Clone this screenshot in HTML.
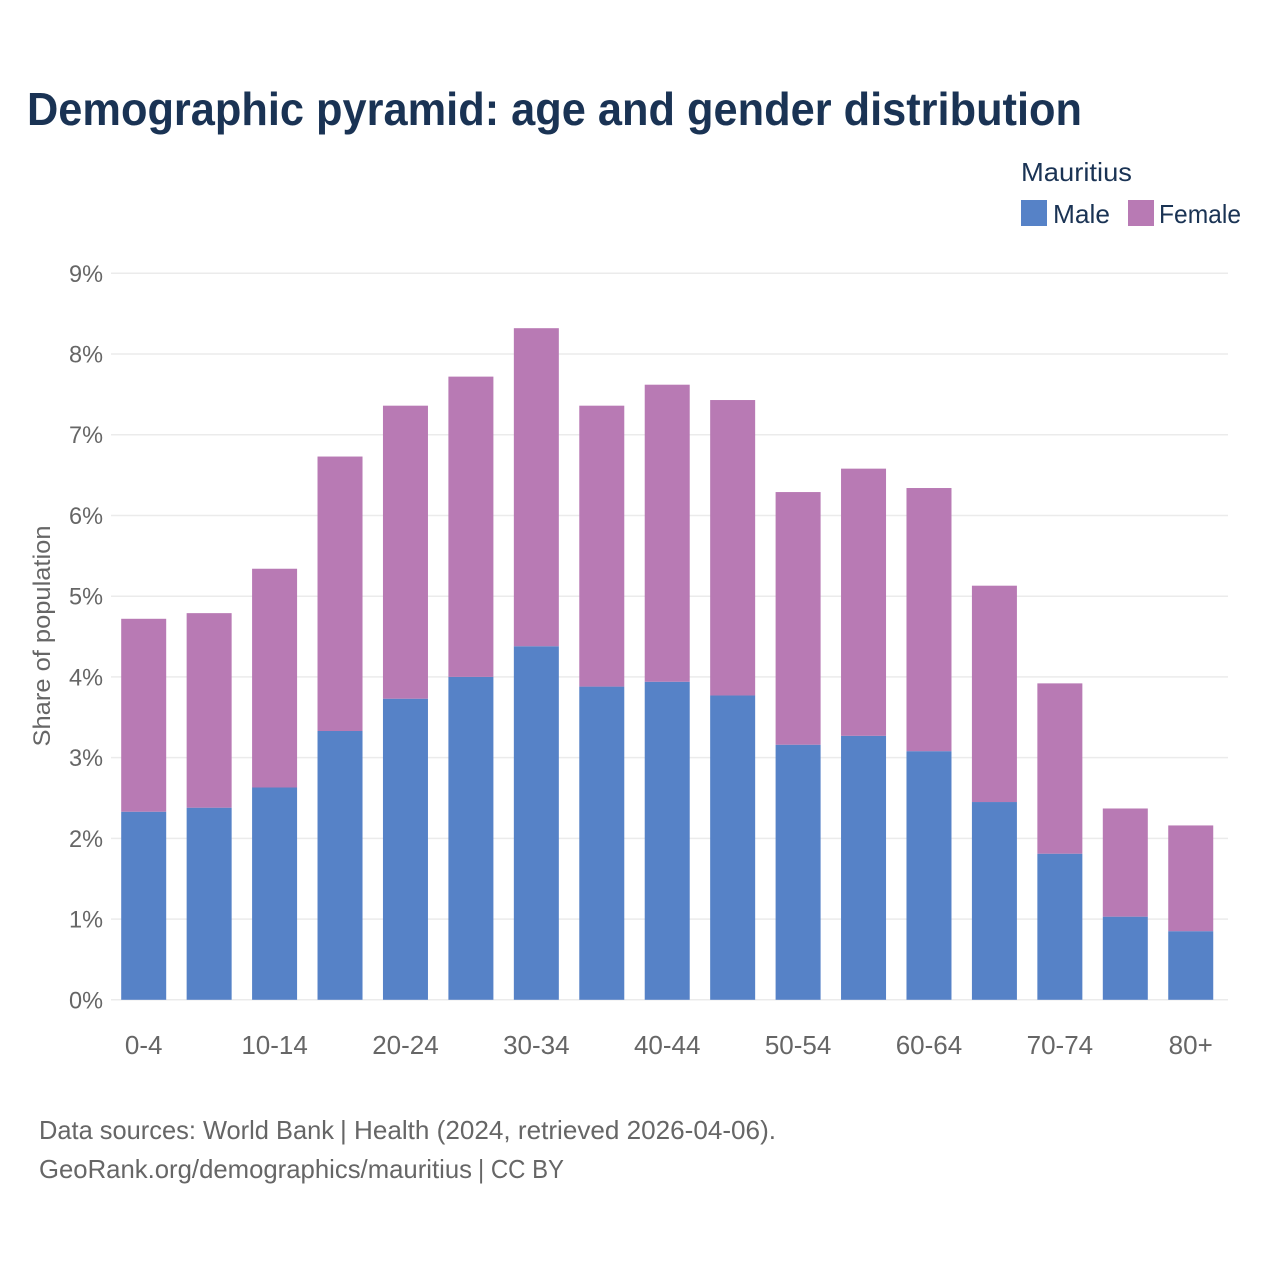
<!DOCTYPE html>
<html lang="en">
<head>
<meta charset="utf-8">
<title>Demographic pyramid: Mauritius</title>
<style>
html,body{margin:0;padding:0;background:#fff;}
svg{display:block;font-family:"Liberation Sans",sans-serif;}
</style>
</head>
<body>
<svg id="chart" width="1280" height="1280" viewBox="0 0 1280 1280" xmlns="http://www.w3.org/2000/svg">
  <rect x="0" y="0" width="1280" height="1280" fill="#ffffff"/>
  <text x="27" y="125" font-size="46" font-weight="700" fill="#1a3354" textLength="1055" lengthAdjust="spacingAndGlyphs">Demographic pyramid: age and gender distribution</text>
  <text x="1021" y="181" font-size="26" fill="#1a3354" textLength="111" lengthAdjust="spacingAndGlyphs">Mauritius</text>
  <rect x="1021" y="200" width="26" height="26" fill="#5682c7"/>
  <text x="1053" y="223" font-size="26" fill="#1a3354" textLength="57" lengthAdjust="spacingAndGlyphs">Male</text>
  <rect x="1128" y="200" width="26" height="26" fill="#b87ab4"/>
  <text x="1159" y="223" font-size="26" fill="#1a3354" textLength="82" lengthAdjust="spacingAndGlyphs">Female</text>
  <g id="grid"></g>
  <g id="y-ticks"></g>
  <text transform="translate(50,636) rotate(-90)" text-anchor="middle" font-size="24" fill="#666666" textLength="221" lengthAdjust="spacingAndGlyphs">Share of population</text>
  <g id="bars"></g>
  <g id="x-ticks"></g>
  <text x="39" y="1139" font-size="26" fill="#666666" textLength="295" lengthAdjust="spacingAndGlyphs">Data sources: World Bank</text>
  <text x="340" y="1139" font-size="26" fill="#666666" textLength="436" lengthAdjust="spacingAndGlyphs">| Health (2024, retrieved 2026-04-06).</text>
  <text x="39" y="1178" font-size="26" fill="#666666" textLength="433" lengthAdjust="spacingAndGlyphs">GeoRank.org/demographics/mauritius</text>
  <text x="478" y="1178" font-size="26" fill="#666666" textLength="86" lengthAdjust="spacingAndGlyphs">| CC BY</text>
</svg>
<script>
const ageGroups = ["0-4","5-9","10-14","15-19","20-24","25-29","30-34","35-39","40-44","45-49","50-54","55-59","60-64","65-69","70-74","75-79","80+"];
const maleShare = [2.33,2.38,2.63,3.33,3.73,4.00,4.38,3.88,3.94,3.77,3.16,3.27,3.08,2.45,1.81,1.03,0.85];
const femaleShare = [2.39,2.41,2.71,3.40,3.63,3.72,3.94,3.48,3.68,3.66,3.13,3.31,3.26,2.68,2.11,1.34,1.31];
const yTickValues = [0,1,2,3,4,5,6,7,8,9];
const xTickLabels = ["0-4","10-14","20-24","30-34","40-44","50-54","60-64","70-74","80+"];

const NS = "http://www.w3.org/2000/svg";
const yZero = 999.8, yTop = 273.3, yMax = 9;
const xFirst = 143.7, xStep = 65.44, barWidth = 45;
const plotLeft = 111, plotRight = 1228;
function yScale(v){ return yZero - (v / yMax) * (yZero - yTop); }
function xScale(i){ return xFirst + i * xStep; }
function make(tag, attrs){
  const el = document.createElementNS(NS, tag);
  for (const k in attrs) el.setAttribute(k, attrs[k]);
  return el;
}

const grid = document.getElementById("grid");
const yTicks = document.getElementById("y-ticks");
yTickValues.forEach(function(v){
  const line = make("line", {x1: plotLeft, x2: plotRight, y1: yScale(v), y2: yScale(v), stroke: "#ebebeb", "stroke-width": 1.5});
  
  
  grid.appendChild(line);
  const label = make("text", {x: 103, y: yScale(v) + 8.5, "text-anchor": "end", "font-size": 24, fill: "#666666", textLength: 34, lengthAdjust: "spacingAndGlyphs"});
  
  
  label.textContent = v + "%";
  yTicks.appendChild(label);
});

const bars = document.getElementById("bars");
ageGroups.forEach(function(age, i){
  const m = maleShare[i], f = femaleShare[i];
  const x = xScale(i) - barWidth / 2;
  const maleBar = make("rect", {x: x, y: yScale(m), width: barWidth, height: yScale(0) - yScale(m), fill: "#5682c7"});
  
  
  bars.appendChild(maleBar);
  const femaleBar = make("rect", {x: x, y: yScale(m + f), width: barWidth, height: yScale(m) - yScale(m + f), fill: "#b87ab4"});
  
  
  bars.appendChild(femaleBar);
});

const xTicks = document.getElementById("x-ticks");
xTickLabels.forEach(function(lbl){
  const idx = ageGroups.indexOf(lbl);
  const t = make("text", {x: xScale(idx), y: 1054, "text-anchor": "middle", "font-size": 26, fill: "#666666"});
  
  
  t.textContent = lbl;
  xTicks.appendChild(t);
});
</script>
</body>
</html>
